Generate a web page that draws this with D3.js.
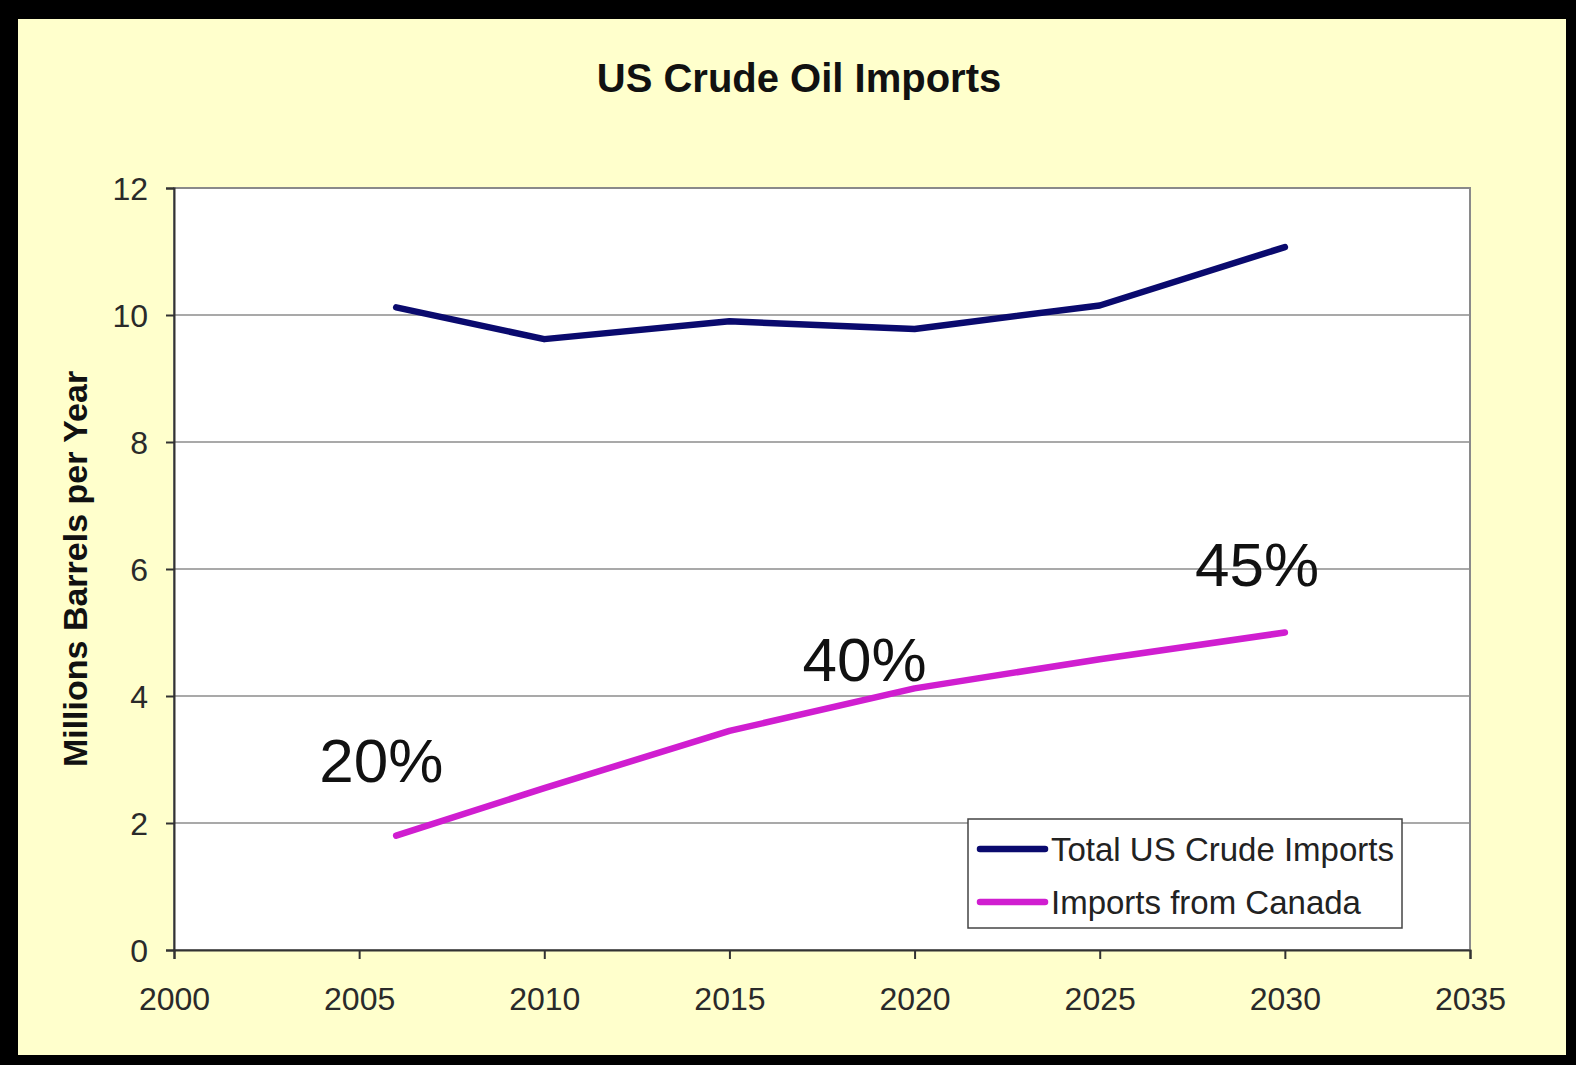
<!DOCTYPE html>
<html>
<head>
<meta charset="utf-8">
<script src="https://cdn.jsdelivr.net/npm/d3@7"></script>
<style>
  html, body { margin: 0; padding: 0; background: #000; }
  svg { display: block; }
  text { font-family: "Liberation Sans", Arial, sans-serif; }
</style>
</head>
<body>
<svg id="chart" width="1576" height="1065"></svg>
<script>
// Projected US crude oil imports, total vs. supplied by Canada
const years = [2006, 2010, 2015, 2020, 2025, 2030];
const totalImports = [10.12, 9.62, 9.9, 9.78, 10.15, 11.07];
const canadaImports = [1.8, 2.55, 3.45, 4.12, 4.58, 5.0];
const seriesNames = ["Total US Crude Imports", "Imports from Canada"];
const seriesColors = ["#0a0a6e", "#d01ed0"];
const xTicks = [2000, 2005, 2010, 2015, 2020, 2025, 2030, 2035];
const yTicks = [0, 2, 4, 6, 8, 10, 12];
// Canada's share of total imports, anchored in data coordinates
const shareLabels = ["20%", "40%", "45%"];
const shareAtYear = [2005.6, 2018.65, 2029.25];
const shareAtValue = [2.64, 4.24, 5.73];

const W = 1576, H = 1065;
const svg = d3.select("#chart");

// black frame with pale yellow chart area
svg.append("rect").attr("width", W).attr("height", H).attr("fill", "#000");
svg.append("rect").attr("x", 18).attr("y", 19).attr("width", 1548).attr("height", 1036)
  .attr("fill", "#ffffcc");

const plot = { left: 174, right: 1470, top: 188, bottom: 950 };
const x = d3.scaleLinear().domain([2000, 2035]).range([plot.left, plot.right]);
const y = d3.scaleLinear().domain([0, 12]).range([plot.bottom, plot.top]);

// plot background
svg.append("rect")
  .attr("x", plot.left).attr("y", plot.top)
  .attr("width", plot.right - plot.left).attr("height", plot.bottom - plot.top)
  .attr("fill", "#ffffff").attr("stroke", "#8a8a8a").attr("stroke-width", 2);

// horizontal gridlines
svg.append("g").selectAll("line").data(yTicks.filter(d => d > 0 && d < 12)).join("line")
  .attr("x1", plot.left).attr("x2", plot.right)
  .attr("y1", d => y(d)).attr("y2", d => y(d))
  .attr("stroke", "#8c8c8c").attr("stroke-width", 1.5);

// axes
const yAxis = d3.axisLeft(y).tickValues(yTicks).tickSize(8).tickPadding(18).tickFormat(d3.format("d"));
const xAxis = d3.axisBottom(x).tickValues(xTicks).tickSize(9).tickPadding(28).tickFormat(d3.format("d"));

const gy = svg.append("g").attr("transform", `translate(${plot.left},0)`).call(yAxis);
const gx = svg.append("g").attr("transform", `translate(0,${plot.bottom})`).call(xAxis);
[gy, gx].forEach(g => {
  g.select(".domain").attr("stroke", "#333").attr("stroke-width", 2);
  g.selectAll(".tick line").attr("stroke", "#333").attr("stroke-width", 2);
  g.selectAll(".tick text").attr("fill", "#2a2a2a").attr("font-size", 32)
    .attr("font-family", "'Liberation Sans', Arial, sans-serif");
});
gx.selectAll(".tick text").attr("dy", "0.71em");
gy.selectAll(".tick text").attr("dy", "0.36em");

// series lines
const line = d3.line().x(d => x(d[0])).y(d => y(d[1]));
[totalImports, canadaImports].forEach((vals, i) => {
  svg.append("path")
    .datum(years.map((yr, j) => [yr, vals[j]]))
    .attr("d", line)
    .attr("fill", "none")
    .attr("stroke", seriesColors[i])
    .attr("stroke-width", 6.5)
    .attr("stroke-linejoin", "round")
    .attr("stroke-linecap", "round");
});

// share annotations
svg.append("g").selectAll("text").data(shareLabels).join("text")
  .attr("x", (d, i) => x(shareAtYear[i]))
  .attr("y", (d, i) => y(shareAtValue[i]))
  .attr("text-anchor", "middle")
  .attr("font-size", 62)
  .attr("fill", "#111")
  .text(d => d);

// title
svg.append("text")
  .attr("x", 799).attr("y", 92)
  .attr("text-anchor", "middle")
  .attr("font-size", 40).attr("font-weight", "bold").attr("fill", "#111")
  .text("US Crude Oil Imports");

// y-axis title
svg.append("text")
  .attr("transform", `translate(87,${(plot.top + plot.bottom) / 2}) rotate(-90)`)
  .attr("text-anchor", "middle")
  .attr("font-size", 34).attr("font-weight", "bold").attr("fill", "#111")
  .text("Millions Barrels per Year");

// legend
const lg = svg.append("g").attr("transform", "translate(968,819)");
lg.append("rect").attr("width", 434).attr("height", 109)
  .attr("fill", "#fff").attr("stroke", "#444").attr("stroke-width", 1.5);
seriesNames.forEach((name, i) => {
  const ly = 30 + i * 53;
  lg.append("line").attr("x1", 12).attr("x2", 77).attr("y1", ly).attr("y2", ly)
    .attr("stroke", seriesColors[i]).attr("stroke-width", 6.5).attr("stroke-linecap", "round");
  lg.append("text").attr("x", 83).attr("y", ly + 12)
    .attr("font-size", 33).attr("fill", "#222").text(name);
});
</script>
</body>
</html>
